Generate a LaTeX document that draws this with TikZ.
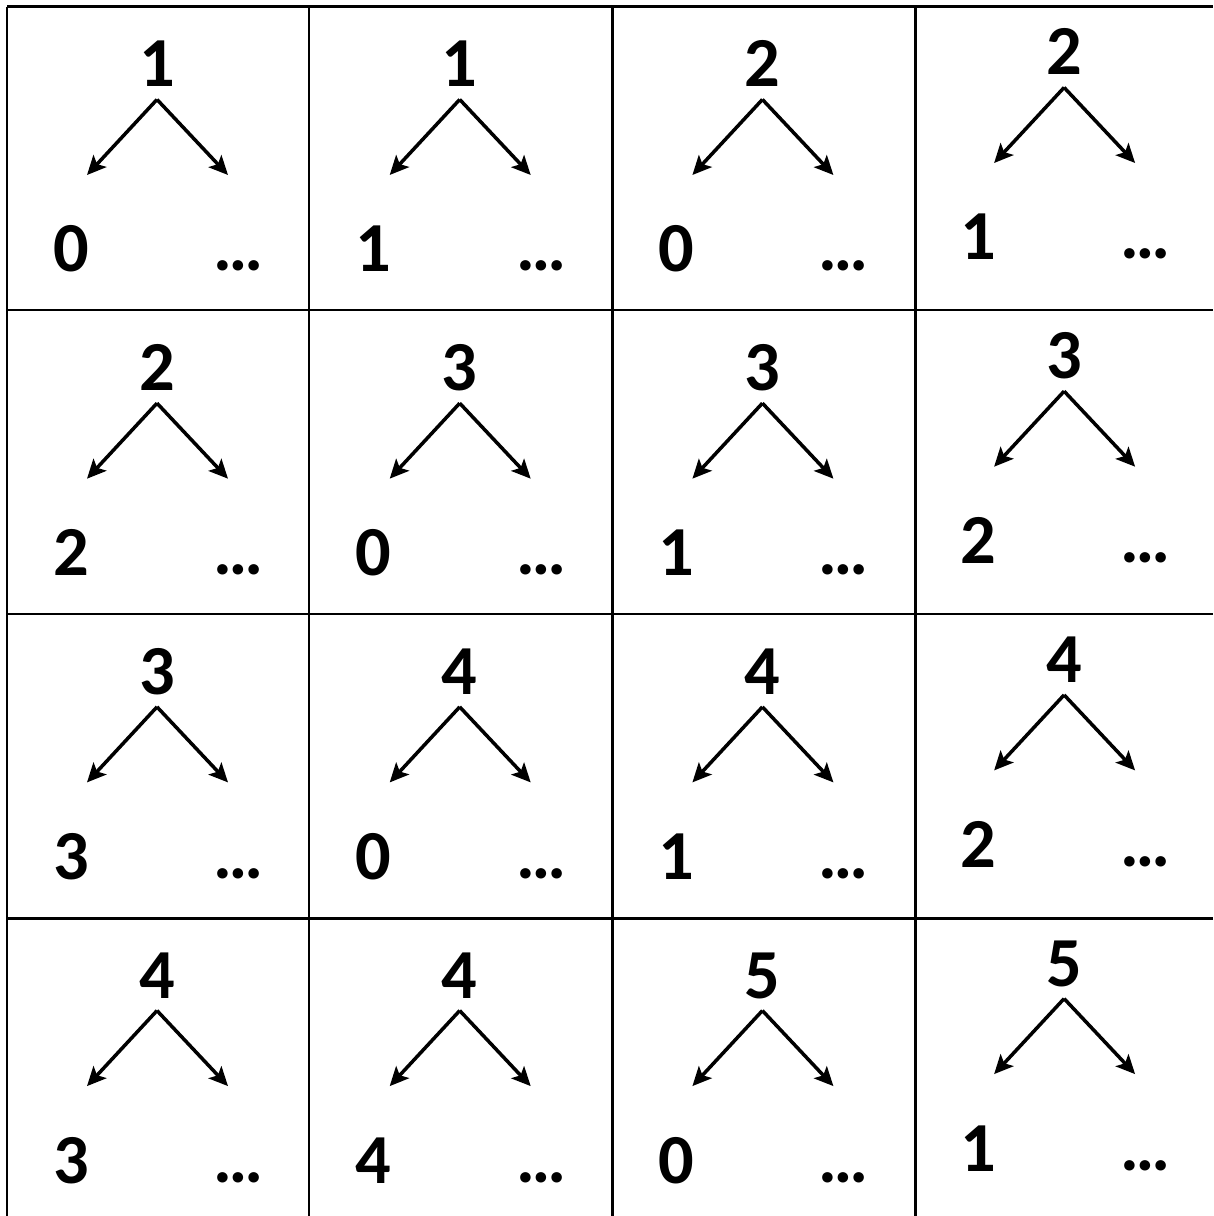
\documentclass[tikz,border=0pt]{standalone}
\usepackage{fontspec}
\setmainfont{Carlito}
\usepackage{tikz}
\usetikzlibrary{arrows.meta}

\begin{document}
\begin{tikzpicture}[>={Stealth[length=5.4pt,width=5pt,inset=1.2pt]},
    digit/.style={inner sep=0pt,anchor=base,font=\fontsize{20}{22}\selectfont\bfseries},
    gridline/.style={line width=0.85pt},
    branch/.style={line width=1pt,->}]
    \useasboundingbox (0,0) rectangle (12.13,-12.16);
    % table lines
    \foreach \x in {0.07,3.09,6.12,9.15}
      \draw[gridline] (\x,-0.07) -- (\x,-12.16);
    \foreach \y in {0.07,3.10,6.14,9.18}
      \draw[gridline] (0.07,-\y) -- (12.13,-\y);
    % one split per cell: column/row/top/left part
    \foreach \c/\r/\top/\low [count=\i] in {0/0/1/0,1/0/1/1,2/0/2/0,3/0/2/1,
        0/1/2/2,1/1/3/0,2/1/3/1,3/1/3/2,
        0/2/3/3,1/2/4/0,2/2/4/1,3/2/4/2,
        0/3/4/3,1/3/4/4,2/3/5/0,3/3/5/1}{
      \pgfmathsetmacro{\cx}{0.07+3.027*\c-0.01*(\c==3)}
      \pgfmathsetmacro{\cy}{-0.07-3.037*\r+0.12*(\c==3)}
      \begin{scope}[shift={(\cx,\cy)}]
        \node[digit] (t\i) at (1.50,-0.80) {\top};
        \coordinate (a\i) at (1.50,-0.925);
        \coordinate (p\i) at (0.80,-1.68);
        \coordinate (q\i) at (2.21,-1.68);
        \node[digit] (l\i) at (0.64,-2.65) {\low};
        \node[digit] (r\i) at (2.315,-2.64) {…};
        \draw[branch] (a\i) -- (p\i);
        \draw[branch] (a\i) -- (q\i);
      \end{scope}
    }
\end{tikzpicture}
\end{document}
